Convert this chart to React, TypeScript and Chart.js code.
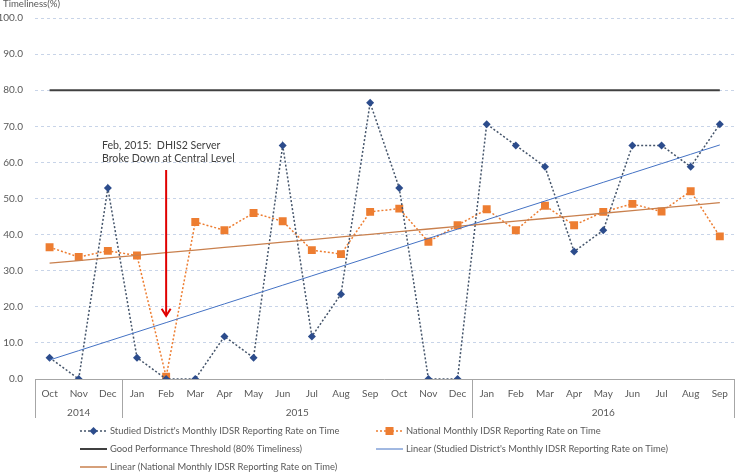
import React, { useEffect, useRef } from "react";
import { Chart, registerables } from "chart.js";

Chart.register(...registerables);

const months = ["Oct", "Nov", "Dec", "Jan", "Feb", "Mar", "Apr", "May", "Jun", "Jul", "Aug", "Sep", "Oct", "Nov", "Dec", "Jan", "Feb", "Mar", "Apr", "May", "Jun", "Jul", "Aug", "Sep"];
const years = ["2014", "2015", "2016"];
const yearSpans = [3, 12, 9];
const districtRate = [5.9, 0, 52.9, 5.9, 0, 0, 11.8, 5.9, 64.7, 11.8, 23.5, 76.5, 52.9, 0, 0, 70.6, 64.7, 58.8, 35.3, 41.2, 64.7, 64.7, 58.8, 70.6];
const nationalRate = [36.5, 33.8, 35.5, 34.2, 0.6, 43.5, 41.2, 46.0, 43.7, 35.7, 34.6, 46.3, 47.2, 38.0, 42.6, 47.0, 41.2, 48.0, 42.6, 46.3, 48.5, 46.4, 52.0, 39.5];
const threshold = 80;
const yTicks = [0, 10, 20, 30, 40, 50, 60, 70, 80, 90, 100];

const seriesNames = [
  "Studied District's Monthly IDSR Reporting Rate on Time",
  "National Monthly IDSR Reporting Rate on Time",
  "Good Performance Threshold (80% Timeliness)",
  "Linear (Studied District's Monthly IDSR Reporting Rate on Time)",
  "Linear (National Monthly IDSR Reporting Rate on Time)",
];
const annotationLines = ["Feb, 2015:  DHIS2 Server", "Broke Down at Central Level"];
const annotationIndex = 4;

function linearTrend(vals: number[]) {
  const n = vals.length;
  let sx = 0, sy = 0, sxy = 0, sxx = 0;
  vals.forEach((v, i) => { sx += i; sy += v; sxy += i * v; sxx += i * i; });
  const b = (n * sxy - sx * sy) / (n * sxx - sx * sx);
  const a = (sy - b * sx) / n;
  return vals.map((_, i) => a + b * i);
}

const FONT = "Lato, 'Liberation Sans', sans-serif";
const TEXT = "#595959";
const BLUE_M = "#2c4c8c";
const BLUE_L = "#44546a";
const ORANGE = "#ed7d31";
const TREND_B = "#4472c4";
const TREND_O = "#c9804e";
const DARK = "#404040";

const overlay = {
  id: "overlay",
  afterDraw(chart: any) {
    const ctx = chart.ctx;
    const area = chart.chartArea;
    const x = chart.scales.x;
    const y = chart.scales.y;
    ctx.save();
    // axis title
    ctx.fillStyle = TEXT;
    ctx.font = `9.6px ${FONT}`;
    ctx.textBaseline = "middle";
    ctx.textAlign = "left";
    ctx.fillText("Timeliness(%)", 3, 4);

    // x axis line + group separators
    ctx.strokeStyle = "#a6a6a6";
    ctx.lineWidth = 1;
    ctx.beginPath();
    ctx.moveTo(area.left, area.bottom + 0.5);
    ctx.lineTo(area.right, area.bottom + 0.5);
    ctx.stroke();
    const step = (area.right - area.left) / months.length;
    let idx = 0;
    const bounds = [0];
    yearSpans.forEach((s) => { idx += s; bounds.push(idx); });
    bounds.forEach((b) => {
      const px = Math.round(area.left + b * step) + 0.5;
      ctx.beginPath();
      ctx.moveTo(px, area.bottom);
      ctx.lineTo(px, area.bottom + 39);
      ctx.stroke();
    });
    ctx.fillStyle = TEXT;
    ctx.font = `10px ${FONT}`;
    ctx.textAlign = "center";
    years.forEach((yr, i) => {
      const cx = area.left + ((bounds[i] + bounds[i + 1]) / 2) * step;
      ctx.fillText(yr, cx, area.bottom + 34);
    });

    // annotation
    const ax = x.getPixelForValue(annotationIndex);
    ctx.fillStyle = DARK;
    ctx.font = `10.6px ${FONT}`;
    ctx.textAlign = "left";
    ctx.fillText(annotationLines[0], 102, 146);
    ctx.fillText(annotationLines[1], 102, 159);
    ctx.strokeStyle = "#e00000";
    ctx.lineWidth = 2;
    const top = 170, tip = y.getPixelForValue(17.5);
    ctx.beginPath();
    ctx.moveTo(ax, top);
    ctx.lineTo(ax, tip);
    ctx.stroke();
    ctx.beginPath();
    ctx.moveTo(ax - 4.5, tip - 7);
    ctx.lineTo(ax, tip);
    ctx.lineTo(ax + 4.5, tip - 7);
    ctx.stroke();

    // legend
    ctx.font = `9.4px ${FONT}`;
    ctx.textBaseline = "middle";
    ctx.textAlign = "left";
    const items = [
      { x: 80, y: 431, color: BLUE_L, dash: [2, 2], w: 1.5, marker: "diamond" },
      { x: 376, y: 431, color: ORANGE, dash: [2, 2], w: 1.5, marker: "square" },
      { x: 80, y: 449, color: DARK, dash: [], w: 2, marker: "" },
      { x: 376, y: 449, color: TREND_B, dash: [], w: 1, marker: "" },
      { x: 80, y: 467, color: TREND_O, dash: [], w: 1.5, marker: "" },
    ];
    items.forEach((it, i) => {
      ctx.strokeStyle = it.color;
      ctx.lineWidth = it.w;
      ctx.setLineDash(it.dash);
      ctx.beginPath();
      ctx.moveTo(it.x, it.y);
      ctx.lineTo(it.x + 27, it.y);
      ctx.stroke();
      ctx.setLineDash([]);
      const mx = it.x + 13.5;
      if (it.marker === "diamond") {
        ctx.fillStyle = BLUE_M;
        ctx.beginPath();
        ctx.moveTo(mx, it.y - 4);
        ctx.lineTo(mx + 4, it.y);
        ctx.lineTo(mx, it.y + 4);
        ctx.lineTo(mx - 4, it.y);
        ctx.closePath();
        ctx.fill();
      } else if (it.marker === "square") {
        ctx.fillStyle = ORANGE;
        ctx.fillRect(mx - 4, it.y - 4, 8, 8);
      }
      ctx.fillStyle = TEXT;
      ctx.fillText(seriesNames[i], it.x + 30, it.y);
    });
    ctx.restore();
  },
};

export default function App() {
  const ref = useRef<HTMLCanvasElement>(null);
  useEffect(() => {
    if (!ref.current) return;
    const chart = new Chart(ref.current, {
      type: "line",
      data: {
        labels: months,
        datasets: [
          {
            label: seriesNames[0],
            data: districtRate,
            borderColor: BLUE_L,
            borderWidth: 1.5,
            borderDash: [2, 2],
            pointStyle: "rectRot",
            pointRadius: 4,
            pointBackgroundColor: BLUE_M,
            pointBorderColor: BLUE_M,
            pointBorderWidth: 0,
            tension: 0,
            order: 1,
          },
          {
            label: seriesNames[1],
            data: nationalRate,
            borderColor: ORANGE,
            borderWidth: 1.5,
            borderDash: [2, 2],
            pointStyle: "rect",
            pointRadius: 5.6,
            pointBackgroundColor: ORANGE,
            pointBorderColor: ORANGE,
            pointBorderWidth: 0,
            tension: 0,
            order: 2,
          },
          {
            label: seriesNames[2],
            data: months.map(() => threshold),
            borderColor: DARK,
            borderWidth: 2,
            pointRadius: 0,
            order: 3,
          },
          {
            label: seriesNames[3],
            data: linearTrend(districtRate),
            borderColor: TREND_B,
            borderWidth: 1,
            pointRadius: 0,
            order: 0,
          },
          {
            label: seriesNames[4],
            data: linearTrend(nationalRate),
            borderColor: TREND_O,
            borderWidth: 1.3,
            pointRadius: 0,
            order: 0,
          },
        ],
      },
      options: {
        responsive: false,
        animation: false,
        devicePixelRatio: 1,
        layout: { padding: { top: 14, right: 2, left: 0, bottom: 0 } },
        plugins: { legend: { display: false }, tooltip: { enabled: false } },
        scales: {
          x: {
            offset: true,
            grid: { display: false },
            border: { display: false },
            ticks: {
              autoSkip: false,
              maxRotation: 0,
              padding: 1,
              color: TEXT,
              font: { family: FONT, size: 10 },
            },
            afterFit: (s: any) => { s.height = 94; },
          },
          y: {
            min: 0,
            max: 100,
            afterBuildTicks: (s: any) => { s.ticks = yTicks.map((v) => ({ value: v })); },
            grid: { color: (c: any) => (c.tick && c.tick.value === 0 ? "rgba(0,0,0,0)" : "#c8d4e8"), drawTicks: false },
            border: { display: false, dash: [3, 3] },
            ticks: {
              padding: 12,
              color: TEXT,
              font: { family: FONT, size: 10 },
              callback: (v: any) => Number(v).toFixed(1),
            },
            afterFit: (s: any) => { s.width = 35; },
          },
        },
      },
      plugins: [overlay],
    });
    return () => chart.destroy();
  }, []);
  return (
    <div style={{ position: "fixed", left: 0, top: 0, width: 740, height: 473, background: "#fff" }}>
      <canvas ref={ref} width={740} height={473} />
    </div>
  );
}
